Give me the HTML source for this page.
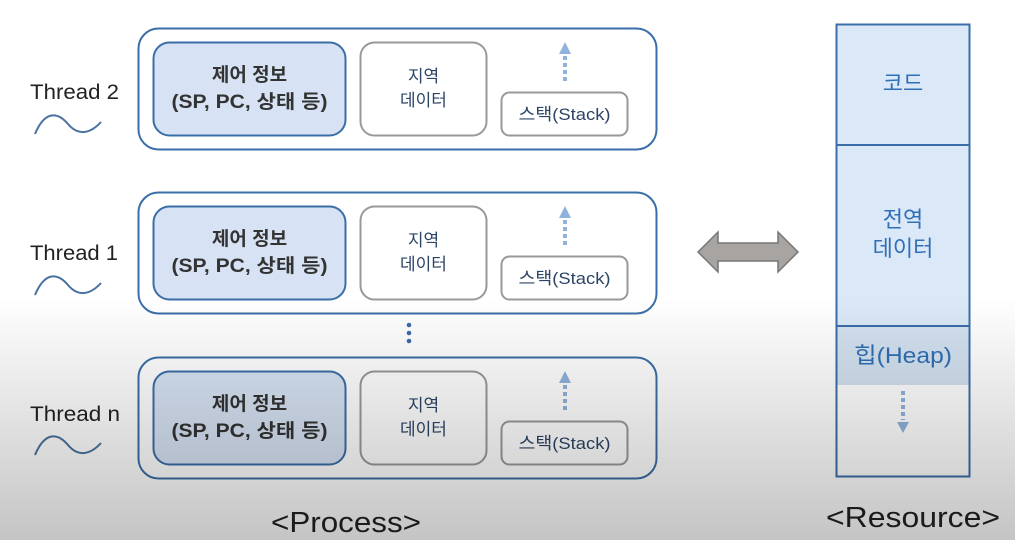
<!DOCTYPE html>
<html><head><meta charset="utf-8"><style>
html,body{margin:0;padding:0;width:1015px;height:540px;overflow:hidden;background:#fff}
svg text{font-family:"Liberation Sans","Noto Sans CJK KR",sans-serif}
</style></head><body>
<svg width="1015" height="540" viewBox="0 0 1015 540" xmlns="http://www.w3.org/2000/svg">
<defs>
<linearGradient id="bg" x1="0" y1="0" x2="0" y2="1">
<stop offset="0" stop-color="#000" stop-opacity="0"/>
<stop offset="0.55" stop-color="#000" stop-opacity="0"/>
<stop offset="1" stop-color="#000" stop-opacity="0.23"/>
</linearGradient>
<g id="thread">
<rect x="138.5" y="0.5" width="518" height="121" rx="20" fill="#fff" stroke="#3a6ea8" stroke-width="2"/>
<rect x="153.5" y="14.5" width="192" height="93" rx="16" fill="#d7e3f4" stroke="#3a6ea8" stroke-width="2"/>
<text x="249.5" y="53" text-anchor="middle" font-size="19" font-weight="bold" fill="#333">제어 정보</text>
<text x="249.5" y="80" text-anchor="middle" font-size="19" font-weight="bold" fill="#333" textLength="156" lengthAdjust="spacingAndGlyphs">(SP, PC, 상태 등)</text>
<rect x="360.5" y="14.5" width="126" height="93" rx="14" fill="#fff" stroke="#999" stroke-width="2"/>
<text x="423.5" y="54" text-anchor="middle" font-size="17" fill="#2c4466">지역</text>
<text x="423.5" y="78" text-anchor="middle" font-size="17" fill="#2c4466">데이터</text>
<rect x="501.5" y="64.5" width="126" height="43" rx="8" fill="#fff" stroke="#999" stroke-width="2"/>
<text x="564.5" y="92" text-anchor="middle" font-size="17" fill="#2c4466" textLength="92" lengthAdjust="spacingAndGlyphs">스택(Stack)</text>
<polygon points="559,26 571,26 565,14" fill="#8fb3dc"/>
<line x1="565" y1="28" x2="565" y2="54" stroke="#8fb3dc" stroke-width="4" stroke-dasharray="4,3"/>
</g>
</defs>
<use href="#thread" y="28"/>
<use href="#thread" y="192"/>
<use href="#thread" y="357"/>
<g fill="#222" font-size="21">
<text x="30" y="99" textLength="89" lengthAdjust="spacingAndGlyphs">Thread 2</text>
<text x="30" y="260" textLength="88" lengthAdjust="spacingAndGlyphs">Thread 1</text>
<text x="30" y="421" textLength="90" lengthAdjust="spacingAndGlyphs">Thread n</text>
</g>
<g fill="none" stroke="#4a72a0" stroke-width="2">
<path d="M35 134 C45 110,58 112,68 124 C78 136,90 134,101 122"/>
<path d="M35 295 C45 271,58 273,68 285 C78 297,90 295,101 283"/>
<path d="M35 455 C45 431,58 433,68 445 C78 457,90 455,101 443"/>
</g>
<g fill="#3a6ea8"><circle cx="409" cy="325" r="2.3"/><circle cx="409" cy="333" r="2.3"/><circle cx="409" cy="341" r="2.3"/></g>
<polygon points="698,252 718,232 718,243 778,243 778,232 798,252 778,272 778,261 718,261 718,272" fill="#a8a4a2" stroke="#777" stroke-width="1.5"/>
<rect x="836.5" y="24.5" width="133" height="452" fill="#fff"/>
<rect x="836.5" y="24.5" width="133" height="360" fill="#dae8f7"/>
<rect x="836.5" y="326" width="133" height="59" fill="#d3e1f0"/>
<rect x="836.5" y="24.5" width="133" height="452" fill="none" stroke="#3a6ea8" stroke-width="2"/>
<line x1="836" y1="145" x2="970" y2="145" stroke="#3a6ea8" stroke-width="2"/>
<line x1="836" y1="326" x2="970" y2="326" stroke="#3a6ea8" stroke-width="2"/>
<g fill="#2f6fb5" font-size="22" text-anchor="middle">
<text x="903" y="91">코드</text>
<text x="903" y="227">전역</text>
<text x="903" y="256">데이터</text>
<text x="903" y="363" textLength="98" lengthAdjust="spacingAndGlyphs">힙(Heap)</text>
</g>
<line x1="903" y1="391" x2="903" y2="420" stroke="#8fb3dc" stroke-width="4" stroke-dasharray="4,3"/>
<polygon points="897,422 909,422 903,433" fill="#8fb3dc"/>
<text x="271" y="532" font-size="29" fill="#222" textLength="150" lengthAdjust="spacingAndGlyphs">&lt;Process&gt;</text>
<text x="826" y="527" font-size="29" fill="#222" textLength="174" lengthAdjust="spacingAndGlyphs">&lt;Resource&gt;</text>
<rect x="0" y="0" width="1015" height="540" fill="url(#bg)"/>
</svg>
</body></html>
